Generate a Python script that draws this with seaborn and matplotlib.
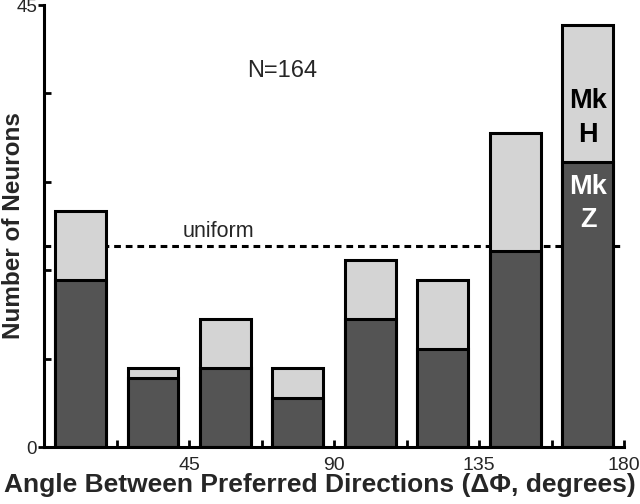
import numpy as np
import pandas as pd
import matplotlib
matplotlib.use("Agg")
import matplotlib.pyplot as plt
import seaborn as sns

# bin centres (degrees) and neuron counts per monkey
angles = [11.25, 33.75, 56.25, 78.75, 101.25, 123.75, 146.25, 168.75]
mk_z = [17, 7, 8, 5, 13, 10, 20, 29]
mk_h = [7, 1, 5, 3, 6, 7, 12, 14]
n_total = 164

sns.set_theme(style="white")
plt.rcParams['font.family'] = ['Liberation Sans', 'DejaVu Sans']

df = pd.DataFrame({"angle": angles, "z": mk_z, "h": mk_h})
df["total"] = df["z"] + df["h"]

fig = plt.figure(figsize=(6.4, 5.04), dpi=100)
ax = fig.add_axes([0.069, 0.113, 0.906, 0.877])

lw = 2.2
sns.barplot(data=df, x="angle", y="total", native_scale=True, width=0.7,
            color="#d4d4d4", saturation=1, edgecolor="black", linewidth=lw, ax=ax)
sns.barplot(data=df, x="angle", y="z", native_scale=True, width=0.7,
            color="#545454", saturation=1, edgecolor="black", linewidth=lw, ax=ax)

# uniform expectation
uniform = n_total / len(angles)
ax.axhline(uniform, color="black", lw=2.2, ls=(0, (2.2, 1.6)), zorder=0.5)
ax.text(54, uniform + 0.35, "uniform", fontsize=15.5, ha="center", va="bottom")
ax.text(74, 38.3, "N=%d" % n_total, fontsize=17, ha="center", va="center")

ax.text(168.9, 33.5, "Mk\nH", fontsize=19.5, fontweight="bold", color="black",
        ha="center", va="center", linespacing=1.4)
ax.text(168.9, 24.8, "Mk\nZ", fontsize=19.5, fontweight="bold", color="white",
        ha="center", va="center", linespacing=1.35)

ax.set_xlim(0, 180)
ax.set_ylim(0, 45)
ax.set_xticks([45, 90, 135, 180])
ax.set_xticks([22.5, 67.5, 112.5, 157.5], minor=True)
ax.set_yticks([0, 45])
ax.set_yticks([9, 18, 27, 36], minor=True)
ax.tick_params(axis="x", which="both", bottom=True, direction="in", length=5,
               width=2, color="black", labelsize=14, pad=7)
ax.tick_params(axis="y", which="major", left=True, direction="out", length=4,
               width=2, color="black", labelsize=13.5, pad=1)
ax.tick_params(axis="y", which="minor", left=True, direction="in", length=5,
               width=2, color="black")

for s in ["top", "right"]:
    ax.spines[s].set_visible(False)
for s in ["left", "bottom"]:
    ax.spines[s].set_linewidth(2.2)
    ax.spines[s].set_color("black")

ax.set_xlabel("Angle Between Preferred Directions (\u0394\u03a6, degrees)",
              fontsize=19, fontweight="bold")
ax.xaxis.set_label_coords(0.476, -0.058)
ax.set_ylabel("Number of Neurons", fontsize=17.5, fontweight="bold", labelpad=-6)

fig.savefig("out.png", dpi=100)
